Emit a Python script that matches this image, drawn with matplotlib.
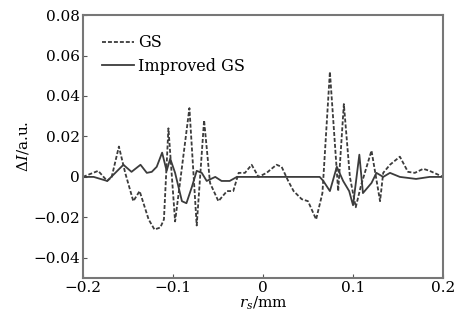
import matplotlib.pyplot as plt

plt.rcParams['font.family'] = 'DejaVu Serif'
plt.rcParams['mathtext.fontset'] = 'dejavuserif'

# GS (dashed curve)
gs_x = [-0.2, -0.183, -0.173, -0.168, -0.160, -0.153, -0.144, -0.137, -0.127, -0.1205,
        -0.114, -0.110, -0.105, -0.0976, -0.0817, -0.0736, -0.0654, -0.0588, -0.0495, -0.040,
        -0.033, -0.027, -0.020, -0.0126, -0.005, 0.004, 0.015, 0.0207, 0.028, 0.034,
        0.043, 0.050, 0.059, 0.066, 0.0743, 0.0835, 0.0898, 0.0965, 0.103, 0.109,
        0.1205, 0.130, 0.1335, 0.141, 0.152, 0.161, 0.1686, 0.178, 0.185, 0.2]
gs_y = [0, 0.003, -0.002, 0, 0.015, 0.002, -0.012, -0.007, -0.021, -0.026,
        -0.025, -0.021, 0.024, -0.022, 0.034, -0.024, 0.028, -0.003, -0.012, -0.007,
        -0.007, 0.002, 0.002, 0.006, 0, 0.002, 0.006, 0.005, -0.002, -0.007,
        -0.011, -0.012, -0.021, -0.008, 0.052, -0.007, 0.036, 0, -0.015, -0.004,
        0.013, -0.012, 0.002, 0.006, 0.010, 0.0025, 0.002, 0.004, 0.003, 0]

# Improved GS (solid curve)
igs_x = [-0.2, -0.188, -0.173, -0.164, -0.155, -0.146, -0.136, -0.129, -0.1235, -0.118,
         -0.112, -0.107, -0.103, -0.0976, -0.090, -0.085, -0.079, -0.0736, -0.068, -0.0625,
         -0.053, -0.046, -0.037, -0.029, 0.063, 0.067, 0.0743, 0.082, 0.089, 0.0957,
         0.100, 0.107, 0.111, 0.1205, 0.126, 0.1335, 0.141, 0.152, 0.17, 0.185, 0.2]
igs_y = [0, 0, -0.002, 0.002, 0.006, 0.0025, 0.006, 0.002, 0.0025, 0.005,
         0.012, 0.003, 0.009, 0.002, -0.012, -0.013, -0.005, 0.003, 0.002, -0.002,
         0, -0.002, -0.002, 0, 0, -0.002, -0.007, 0.005, -0.002, -0.007,
         -0.014, 0.011, -0.008, -0.003, 0.002, 0, 0.002, 0, -0.001, 0, 0]

xticks = [-0.2, -0.1, 0, 0.1, 0.2]
xlabels = ['\u22120.2', '\u22120.1', '0', '0.1', '0.2']
yticks = [-0.04, -0.02, 0, 0.02, 0.04, 0.06, 0.08]
ylabels = ['\u22120.04', '\u22120.02', '0', '0.02', '0.04', '0.06', '0.08']

fig = plt.figure(figsize=(4.63, 3.2), dpi=100)
ax = fig.add_axes([0.179, 0.131, 0.778, 0.822])

line_col = '#3c3c3c'
ax.plot(gs_x, gs_y, color=line_col, lw=1.3, linestyle=(0, (2.2, 1.1)), label='GS')
ax.plot(igs_x, igs_y, color=line_col, lw=1.3, label='Improved GS')

ax.set_xlim(-0.2, 0.2)
ax.set_ylim(-0.05, 0.08)
ax.set_xticks(xticks)
ax.set_xticklabels(xlabels)
ax.set_yticks(yticks)
ax.set_yticklabels(ylabels)
ax.tick_params(direction='in', length=3, labelsize=11, color='#555555', pad=2)

for sp in ax.spines.values():
    sp.set_color('#777777')
    sp.set_linewidth(1.5)

ax.set_xlabel('$r_s$/mm', fontsize=11, labelpad=0)
ax.set_ylabel('$\\Delta I$/a.u.', fontsize=11, labelpad=2)

ax.legend(loc='upper left', frameon=False, fontsize=11.5, handlelength=2.0,
          handletextpad=0.25, borderaxespad=0.8, labelspacing=0.4)

fig.savefig('out.png', dpi=100)
